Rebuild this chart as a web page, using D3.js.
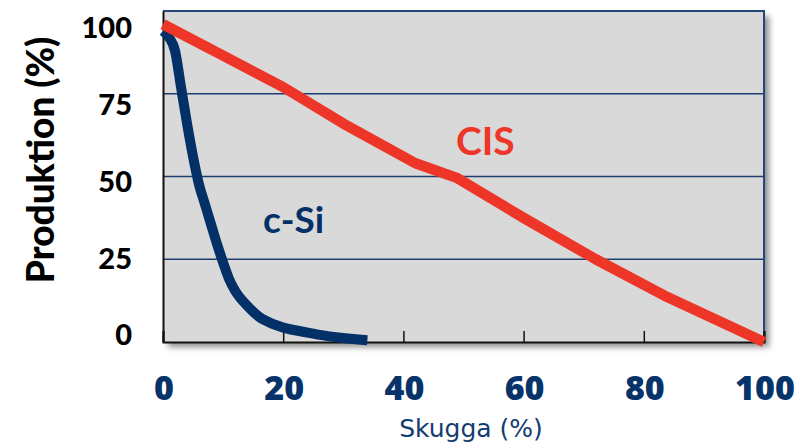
<!DOCTYPE html>
<html>
<head>
<meta charset="utf-8">
<script src="https://cdn.jsdelivr.net/npm/d3@7"></script>
<style>
  body { margin: 0; background: #fff; }
</style>
</head>
<body>
<div id="chart"></div>
<script>
// data
var cisData = [
    {x: 0, y: 96}, {x: 10, y: 86.5}, {x: 20, y: 77}, {x: 30, y: 66},
    {x: 42, y: 54}, {x: 49, y: 49.5}, {x: 60, y: 37.5}, {x: 72, y: 25},
    {x: 84, y: 13.5}, {x: 100, y: 0}
];
var csiData = [
    {x: 0, y: 94}, {x: 1, y: 92}, {x: 2, y: 88}, {x: 3, y: 77},
    {x: 4, y: 66}, {x: 5, y: 56}, {x: 6, y: 47.5}, {x: 7, y: 41.5},
    {x: 8, y: 35.5}, {x: 9, y: 29.5}, {x: 10, y: 24}, {x: 11, y: 19},
    {x: 12, y: 15.5}, {x: 14, y: 11}, {x: 16.5, y: 7}, {x: 25, y: 2.5},
    {x: 34, y: 0.5}
];
var xTicks = [0, 20, 40, 60, 80, 100];
var yTicks = [0, 25, 50, 75, 100];

var W = 802, H = 444;
var plot = {left: 163, right: 764, top: 11, bottom: 342};

var svg = d3.select("#chart")
    .append("svg")
    .attr("width", W)
    .attr("height", H);

var xScale = d3.scaleLinear().domain([0, 100]).range([plot.left, plot.right]);
var yScale = d3.scaleLinear().domain([0, 100]).range([plot.bottom, plot.top]);
// tick labels on the y side sit a bit off the grid in the original
var yLabelScale = d3.scaleLinear().domain([0, 100]).range([335, 28]);

// shadow
var defs = svg.append("defs");
var f = defs.append("filter").attr("id", "shadow")
    .attr("x", "-5%").attr("y", "-5%").attr("width", "115%").attr("height", "115%");
f.append("feGaussianBlur").attr("in", "SourceAlpha").attr("stdDeviation", 3);
f.append("feOffset").attr("dx", 5).attr("dy", 5).attr("result", "b");
f.append("feComponentTransfer").append("feFuncA").attr("type", "linear").attr("slope", 0.45);
var m = f.append("feMerge");
m.append("feMergeNode");
m.append("feMergeNode").attr("in", "SourceGraphic");

// plot area
svg.append("rect")
    .attr("x", plot.left).attr("y", plot.top)
    .attr("width", plot.right - plot.left)
    .attr("height", plot.bottom - plot.top)
    .attr("fill", "#d9d9d9")
    .attr("filter", "url(#shadow)");

// grid lines
svg.append("g")
    .selectAll("line")
    .data([25, 50, 75])
    .join("line")
    .attr("x1", plot.left).attr("x2", plot.right)
    .attr("y1", function(d) { return yScale(d); })
    .attr("y2", function(d) { return yScale(d); })
    .attr("stroke", "#1f3f73")
    .attr("stroke-width", 1.5);

// top / right frame
svg.append("path")
    .attr("d", "M" + plot.left + "," + plot.top + "H" + plot.right + "V" + plot.bottom)
    .attr("fill", "none")
    .attr("stroke", "#24477a")
    .attr("stroke-width", 2);

// x axis, ticks pointing up
var xAxis = d3.axisBottom(xScale).tickValues(xTicks).tickSize(-11).tickFormat("");
var gx = svg.append("g")
    .attr("transform", "translate(0," + plot.bottom + ")")
    .call(xAxis);
gx.select(".domain").attr("stroke", "#111").attr("stroke-width", 2);
gx.selectAll(".tick line").attr("stroke", "#111").attr("stroke-width", 1.5);

// y axis
var gy = svg.append("g")
    .attr("transform", "translate(" + plot.left + ",0)")
    .call(d3.axisLeft(yScale).tickValues(yTicks).tickSize(0).tickFormat(""));
gy.select(".domain").attr("stroke", "#111").attr("stroke-width", 2);

// x tick labels
svg.append("g")
    .selectAll("text")
    .data(xTicks)
    .join("text")
    .attr("x", function(d) { return xScale(d) + 1; })
    .attr("y", 400)
    .attr("text-anchor", "middle")
    .attr("font-family", "'Open Sans', sans-serif")
    .attr("font-weight", 800)
    .attr("font-size", 34)
    .attr("fill", "#06336a")
    .text(function(d) { return d; });

// y tick labels
svg.append("g")
    .selectAll("text")
    .data(yTicks)
    .join("text")
    .attr("x", 132)
    .attr("y", function(d) { return yLabelScale(d); })
    .attr("dy", "0.36em")
    .attr("text-anchor", "end")
    .attr("font-family", "Lato, sans-serif")
    .attr("font-weight", 900)
    .attr("font-size", 29)
    .attr("fill", "#000")
    .text(function(d) { return d; });

// axis titles
svg.append("text")
    .attr("transform", "translate(54,160) rotate(-90)")
    .attr("text-anchor", "middle")
    .attr("font-family", "Lato, sans-serif")
    .attr("font-weight", 900)
    .attr("font-size", 37)
    .attr("fill", "#000")
    .text("Produktion (%)");

svg.append("text")
    .attr("x", 471)
    .attr("y", 437)
    .attr("text-anchor", "middle")
    .attr("font-family", "'DejaVu Sans', sans-serif")
    .attr("font-size", 25)
    .attr("fill", "#123d6f")
    .text("Skugga (%)");

// lines
var line = d3.line()
    .x(function(d) { return xScale(d.x); })
    .y(function(d) { return yScale(d.y); });

svg.append("path")
    .datum(csiData)
    .attr("fill", "none")
    .attr("stroke", "#033066")
    .attr("stroke-width", 10)
    .attr("stroke-linejoin", "round")
    .attr("d", line.curve(d3.curveMonotoneX));

svg.append("path")
    .datum(cisData)
    .attr("fill", "none")
    .attr("stroke", "#ee3628")
    .attr("stroke-width", 10.5)
    .attr("stroke-linejoin", "round")
    .attr("d", line.curve(d3.curveLinear));

// series labels
svg.append("text")
    .attr("x", 456).attr("y", 155)
    .attr("font-family", "Lato, sans-serif")
    .attr("font-weight", "bold")
    .attr("font-size", 39)
    .attr("fill", "#ee3628")
    .text("CIS");

svg.append("text")
    .attr("x", 263).attr("y", 233)
    .attr("font-family", "Lato, sans-serif")
    .attr("font-weight", "bold")
    .attr("font-size", 37)
    .attr("fill", "#033066")
    .text("c-Si");
</script>
</body>
</html>
